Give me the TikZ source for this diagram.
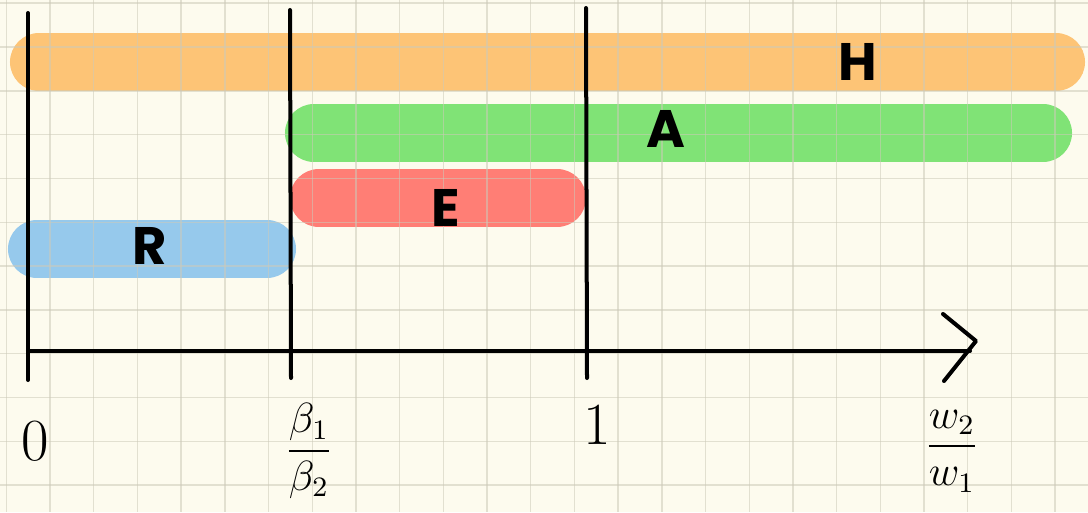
\documentclass[tikz,border=0pt]{standalone}
\usepackage{amsmath,amssymb}
\usepackage{fontspec}
\setsansfont{Poppins}
\usepackage{tikz}
\usepackage{xcolor}
\usetikzlibrary{arrows.meta,positioning,calc}
\definecolor{paper}{RGB}{253,251,238}
\definecolor{gridgray}{RGB}{205,202,185}
\definecolor{barorange}{RGB}{253,196,118}
\definecolor{bargreen}{RGB}{128,227,118}
\definecolor{barred}{RGB}{255,126,117}
\definecolor{barblue}{RGB}{150,201,236}
\tikzset{
  bar/.style={line width=0.58cm,line cap=round},
  ink/.style={line width=0.04cm,line cap=round,black},
  tag/.style={font=\sffamily\bfseries\fontsize{15}{18}\selectfont,inner sep=0pt},
  tick/.style={font=\fontsize{17}{20}\selectfont,inner sep=0pt}
}

\begin{document}
\begin{tikzpicture}[x=0.01cm,y=-0.01cm]
  \fill[paper] (0,0) rectangle (1088,512);
  \useasboundingbox (0,0) rectangle (1088,512);
  % bars
  \draw[bar,barorange] (39,62) coordinate (h0) -- (1056,62) coordinate (h1);
  \draw[bar,bargreen] (314,133) coordinate (a0) -- (1043,133) coordinate (a1);
  \draw[bar,barred] (319,198) coordinate (e0) -- (557,198) coordinate (e1);
  \draw[bar,barblue] (37,249) coordinate (r0) -- (267,249) coordinate (r1);
  % grid
  \foreach \gx in {0,...,24}
    \draw[gridgray,opacity=0.55,line width=0.4pt] ({6.3+43.7*\gx},0) -- ({6.3+43.7*\gx},512);
  \foreach \gy in {0,...,11}
    \draw[gridgray,opacity=0.55,line width=0.4pt] (0,{3.2+43.8*\gy}) -- (1088,{3.2+43.8*\gy});
  % axes
  \coordinate (o) at (28,351);
  \coordinate (tip) at (976,341);
  \draw[ink] (28,13) coordinate (v0) -- (28,380) coordinate (v0b);
  \draw[ink] (290,10) coordinate (v1) -- (291,378) coordinate (v1b);
  \draw[ink] (586,8) coordinate (v2) -- (587,378) coordinate (v2b);
  \draw[ink] (o) -- (970,351) coordinate (xend);
  \draw[ink,line join=round] (943,314) coordinate (ha) -- (tip) -- (944,381) coordinate (hb);
  % labels
  \node[tag] (H) at (858,62) {H};
  \node[tag] (A) at (666,129) {A};
  \node[tag] (E) at (446,208) {E};
  \node[tag] (R) at (150,246) {R};
  \node[tick] (zero) at (35,441) {0};
  \node[tick] (one) at (597,425) {1};
  \node[inner sep=0pt] (ratiob) at (309,451) {\large$\dfrac{\beta_1}{\beta_2}$};
  \node[inner sep=0pt] (ratiow) at (952,451) {\large$\dfrac{w_2}{w_1}$};
\end{tikzpicture}
\end{document}
